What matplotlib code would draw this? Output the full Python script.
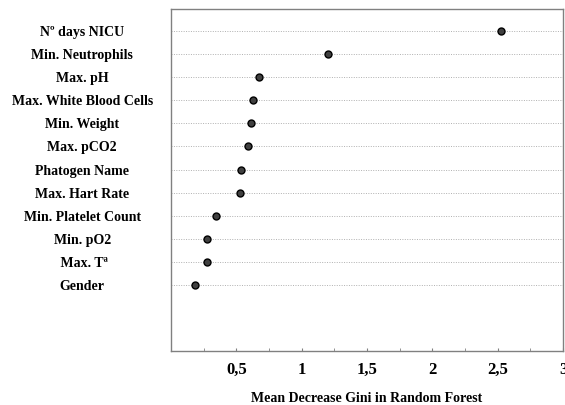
import numpy as np
import matplotlib.pyplot as plt

features = ['Nº days NICU', 'Min. Neutrophils', 'Max. pH', 'Max. White Blood Cells',
            'Min. Weight', 'Max. pCO2', 'Phatogen Name', 'Max. Hart Rate',
            'Min. Platelet Count', 'Min. pO2', ' Max. Tª', 'Gender']
gini = [2.525, 1.20, 0.677, 0.626, 0.613, 0.592, 0.538, 0.528, 0.344, 0.279, 0.279, 0.185]
xticks = [0.5, 1, 1.5, 2, 2.5, 3]
xticklabels = ['0,5', '1', '1,5', '2', '2,5', '3']

plt.rcParams['font.family'] = 'Liberation Serif'
plt.rcParams['font.weight'] = 'bold'

fig = plt.figure(figsize=(5.65, 4.05), dpi=100)
ax = fig.add_axes([0.3027, 0.1333, 0.6938, 0.8445])

ypos = np.arange(len(features))
for y in ypos:
    ax.plot([0, 3], [y, y], linestyle=(0, (1, 1.5)), color='#b0b0b0', linewidth=0.7, zorder=1)
ax.plot(gini, ypos, 'o', markersize=5, markerfacecolor='#404040',
        markeredgecolor='black', markeredgewidth=1, zorder=3)

ax.set_xlim(0, 3)
ax.set_ylim(13.85, -0.95)

ax.set_xticks(xticks)
ax.set_xticklabels(xticklabels, fontsize=12, fontweight='bold')
ax.set_xticks(np.arange(0.25, 3, 0.25), minor=True)
ax.tick_params(axis='x', which='both', direction='in', length=2.5, color='#808080', pad=8)

ax.set_yticks(ypos)
ax.set_yticklabels(features, fontsize=10, fontweight='bold', ha='center')
ax.tick_params(axis='y', length=0, pad=64)

for s in ax.spines.values():
    s.set_color('#808080')
    s.set_linewidth(1)

ax.set_xlabel('Mean Decrease Gini in Random Forest', fontsize=10, fontweight='bold', labelpad=10)

fig.savefig('out.png', dpi=100)
